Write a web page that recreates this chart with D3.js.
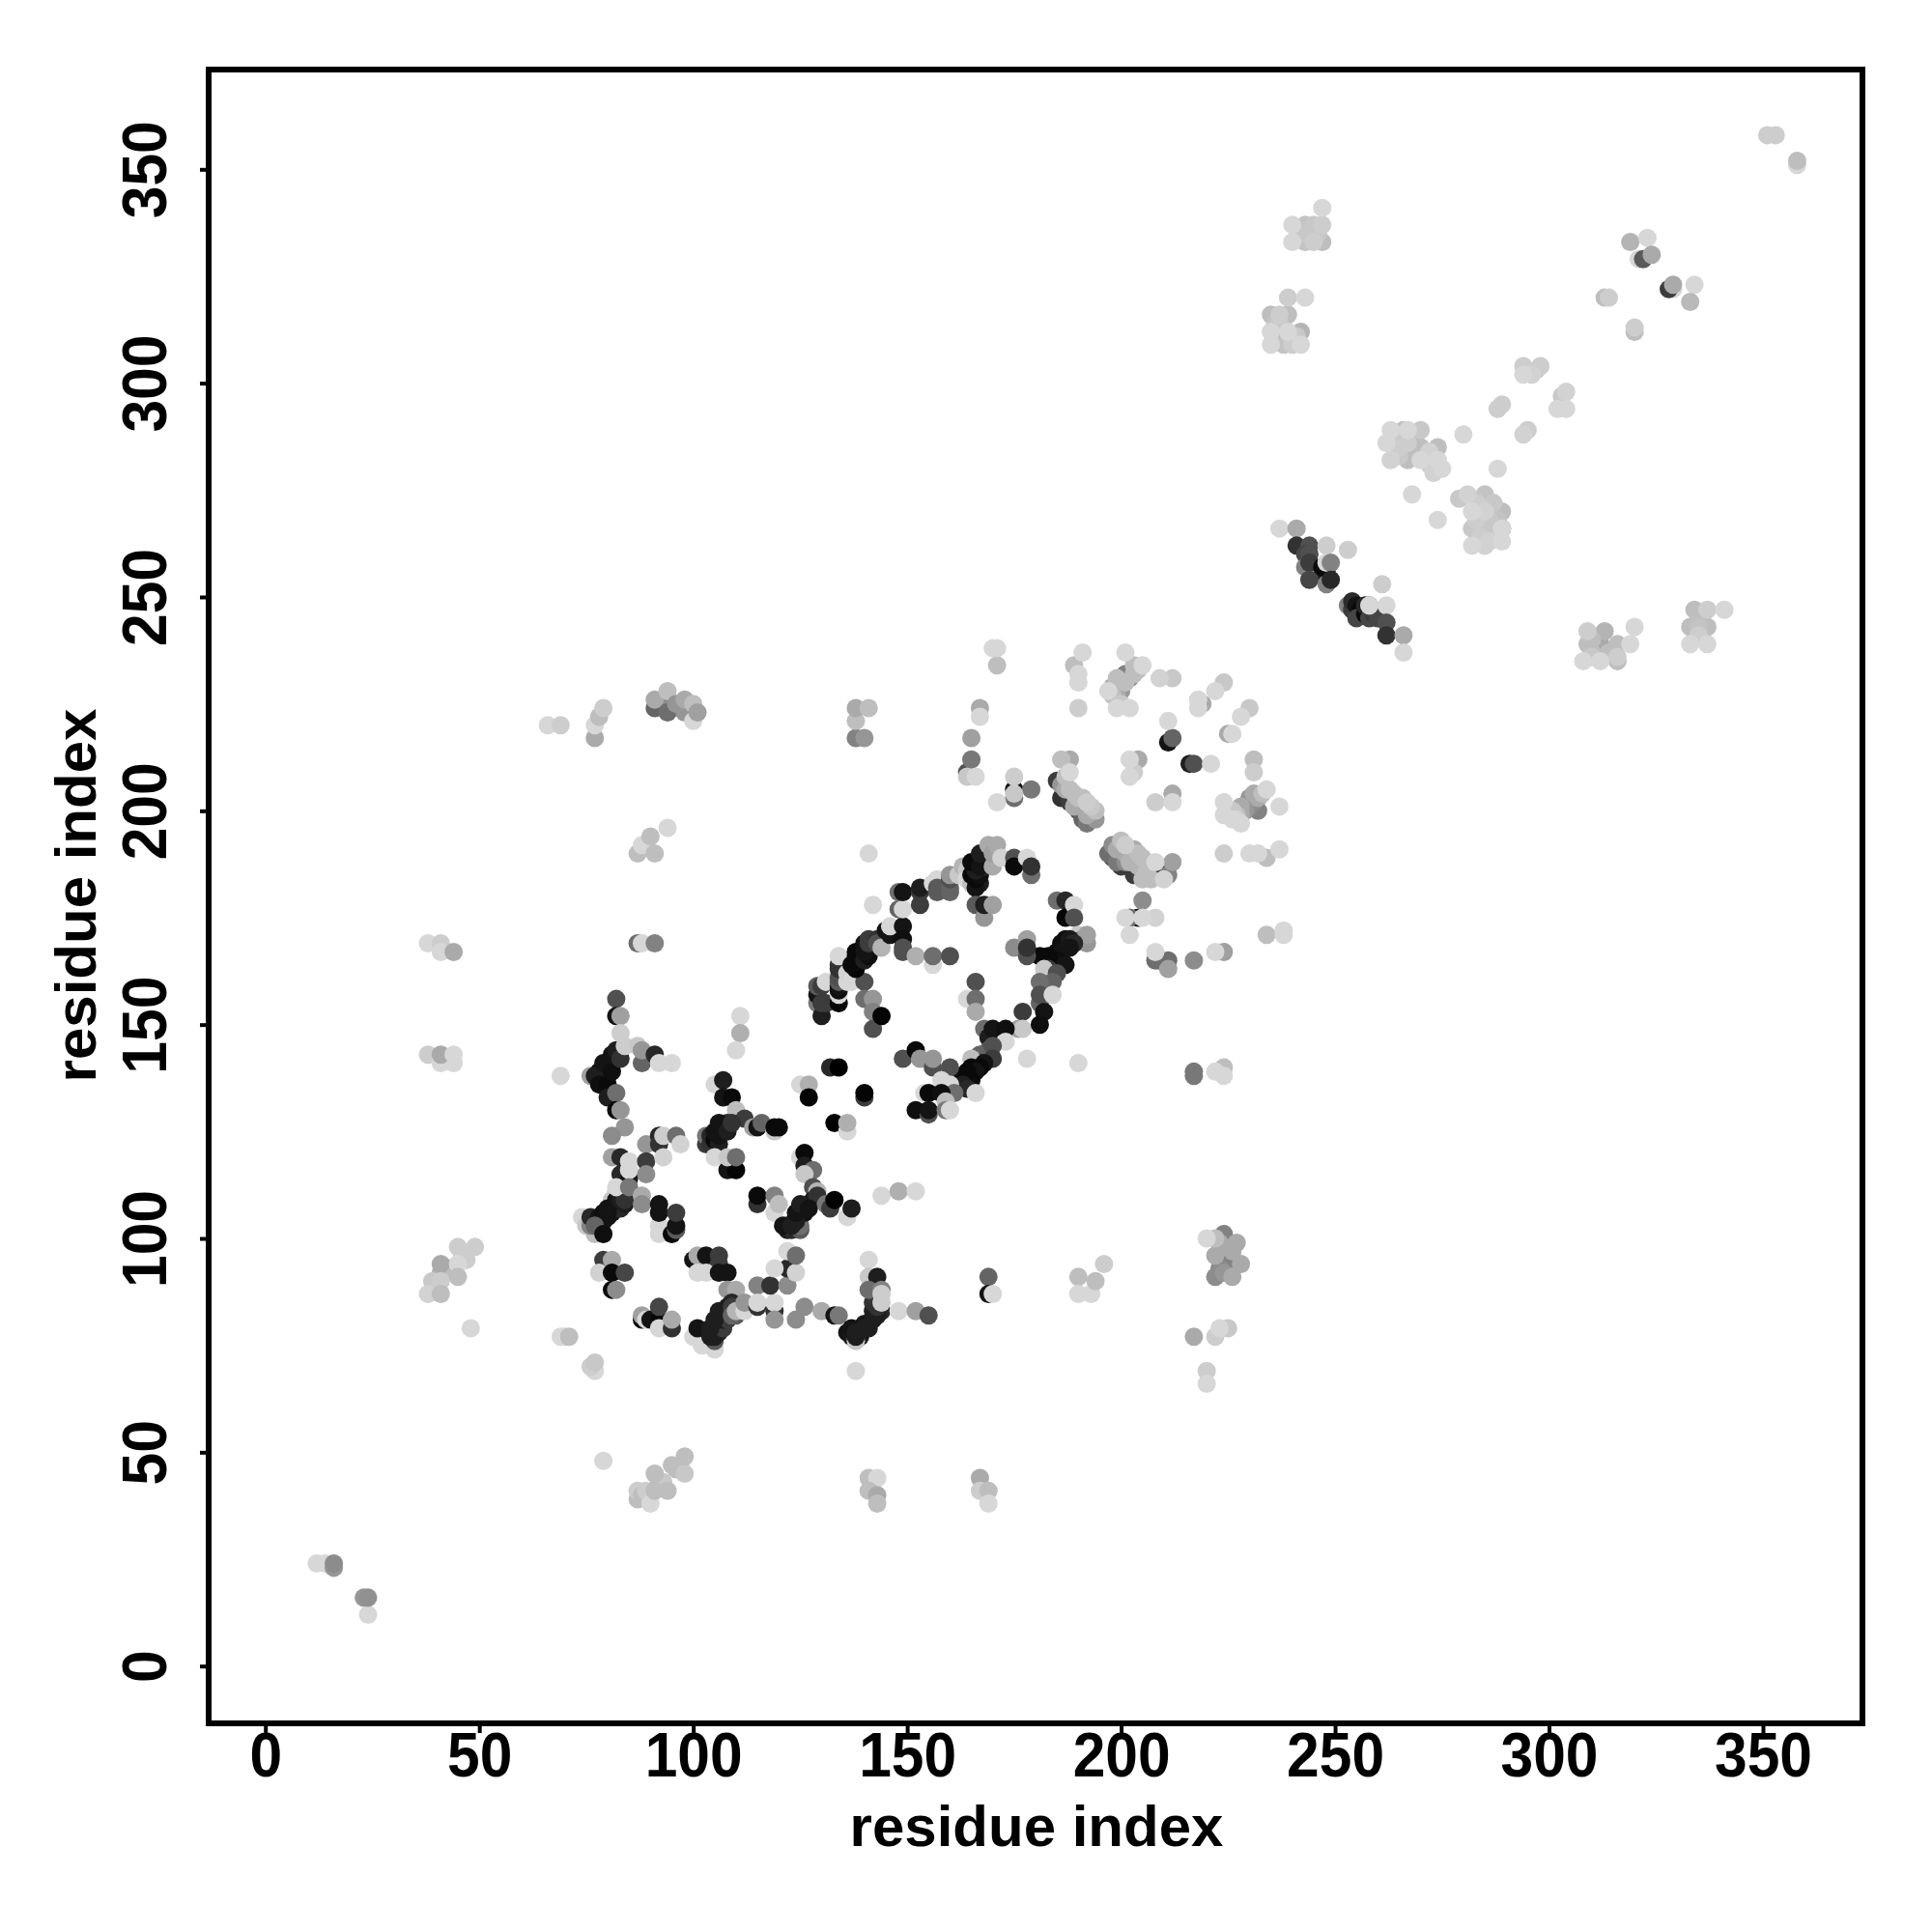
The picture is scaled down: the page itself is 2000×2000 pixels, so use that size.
<!DOCTYPE html>
<html><head><meta charset="utf-8">
<script src="https://cdn.jsdelivr.net/npm/d3@7/dist/d3.min.js"></script>
<style>html,body{margin:0;background:#fff}svg{display:block}</style></head>
<body><svg id="c" width="2000" height="2000"></svg>
<script>
const xTicks=[0,50,100,150,200,250,300,350], yTicks=[0,50,100,150,200,250,300,350];
const axisLabel="residue index";
// each point: [residue i, residue j, shade level 0 (dark) .. 255 (light)]
const farCorners=[[12,24,215],[14,24,215],[16,23,150],[16,24,140],[24,12,215],[23,16,150],[24,16,145],[351,358,205],[353,358,205],[358,351,215],[358,352,190]];
const leftColumn=[[38,169,215],[41,169,205],[41,167,215],[44,167,170],[38,143,205],[41,141,215],[44,141,215],[41,143,170],[44,143,215],
[40,89,200],[41,92,180],[43,93,170],[44,92,190],[46,96,205],[45,98,205],[49,98,205],[47,95,205],[41,94,170],[45,94,215],[39,90,200],[41,90,205],[45,91,190],[38,87,210],[41,87,190],[48,79,215],[79,48,215],
[87,39,190],[87,41,205],[88,40,190],[89,41,205],[92,43,190],[93,43,200],[96,46,190],[97,47,200],[90,38,215],[91,41,190],[94,41,190],[91,45,190],[95,47,190],[98,45,200],[98,49,190],
[167,44,170],[167,41,205],[169,41,190],[169,38,215],[141,44,190],[143,44,215],[141,41,190],[143,40,170],[143,38,190],
[66,220,215],[69,220,205],[77,217,170],[77,220,215],[78,222,190],[79,224,205],
[93,224,100],[95,224,90],[97,224,130],[92,225,140],[99,224,150],[91,224,100],[91,226,170],[94,223,110],[94,228,190],[96,225,150],[98,223,150],[98,226,170],[100,225,190],[100,221,215],[101,223,160],
[138,217,130],[140,217,150],[138,221,190],[138,224,170],[141,224,190],
[87,190,190],[88,192,215],[90,194,190],[91,190,190],[94,196,215],[87,169,110],[88,169,215],[91,169,130],
[169,91,100],[169,87,20],[170,87,215],[190,91,190],[190,87,215],[193,87,215],[194,90,190],[196,94,205]];
const clusterA=[[76,138,160],[78,137,10],[78,139,15],[79,138,15],[80,138,10],[80,140,10],[81,141,15],[82,142,20],[77,138,30],[78,136,15],[80,136,10],[79,141,20],[81,139,15],[81,143,20],[82,144,30],[83,142,50],[80,133,30],[82,134,110],[82,130,10],[83,130,150],[82,156,80],[82,152,20],[83,152,160],[83,148,205],[69,138,215],[84,145,205],[87,145,200],[88,141,100],[88,144,150],[91,143,40],[92,141,215],[95,141,215],[84,126,150],[81,124,140]];
const clusterB=[[81,119,160],[83,119,40],[83,115,40],[85,114,20],[85,118,215],[85,116,215],[89,122,150],[89,118,60],[89,115,140],[92,124,40],[92,122,50],[93,124,205],[93,119,210],[96,124,110],[97,122,210]];
const clusterC=[[74,105,215],[75,103,200],[77,101,190],[76,103,130],[77,104,60],[78,103,30],[79,104,30],[80,105,20],[81,106,20],[82,107,30],[83,107,40],[84,108,30],[76,105,40],[78,105,20],[79,106,15],[80,106,20],[77,103,100],[79,101,15],[81,109,200],[82,111,200],[80,107,20],[82,109,20],[83,109,30],[84,109,50],[82,112,215],[85,112,120],[88,110,170],[88,108,140],[92,103,215],[92,101,215],[92,108,20],[92,106,20],[95,101,10],[96,102,90],[96,103,20],[96,106,60]];
const clusterD=[[79,95,60],[81,95,170],[78,92,210],[81,92,10],[84,92,70],[81,88,10],[82,88,140],[88,81,10],[88,82,160],[89,81,215],[90,81,20],[92,81,10],[92,84,70],[92,79,215],[95,79,50],[95,81,170]];
const clusterE=[[100,77,215],[102,75,215],[101,79,20],[100,95,20],[101,96,170],[103,96,20],[106,96,60],[106,94,60],[101,92,215],[103,92,215],[106,92,20],[108,92,20],[108,88,150],[110,88,170],[105,74,215],[105,76,90],[105,77,30],[104,77,30],[104,78,30],[105,79,30],[106,78,30],[106,80,25],[107,79,60],[107,81,25],[108,81,60],[108,83,30],[109,85,40],[104,79,30],[105,81,30],[106,83,30],[108,84,30],[109,84,60],[110,82,90],[109,82,100],[110,83,180],[112,83,215],[112,85,150],[115,89,130],[115,84,50],[115,85,215],[119,83,50],[119,85,215],[119,81,150],[118,89,50],[122,89,140],[122,93,40],[119,93,215],[122,97,215],[124,92,210],[124,96,110],[124,81,140],[126,84,140]];
const clusterF=[[130,83,170],[133,82,20],[134,82,120],[136,78,20],[137,77,25],[139,77,25],[139,79,20],[140,80,25],[141,80,20],[141,79,30],[142,83,30],[144,83,40],[142,85,50],[143,86,60],[137,79,20],[138,76,200],[138,77,30],[138,78,30],[140,79,30],[142,81,30],[143,82,30],[143,84,50],[141,95,215],[141,91,200],[143,91,30],[141,88,110],[144,88,130],[144,87,205],[144,85,205],[148,83,215],[152,83,160],[155,82,80],[70,77,205],[69,77,215],[71,77,190],[77,69,215],[76,70,205],[77,71,200],[138,69,215]];
const clusterG=[[105,136,215],[107,137,30],[107,133,20],[109,133,10],[110,130,190],[112,128,60],[103,122,60],[103,124,120],[104,122,50],[104,124,40],[105,123,10],[106,122,30],[106,124,20],[107,126,20],[108,127,40],[105,125,20],[106,127,20],[108,125,30],[109,127,50],[114,126,160],[115,126,20],[116,127,100],[119,125,200],[119,126,10],[120,126,10],[105,119,215],[108,116,20],[110,116,5],[108,119,200],[110,119,110],
[111,152,215],[111,148,175],[110,144,215],[125,136,215],[127,136,175],[127,133,5],[132,140,40],[134,140,0],[140,133,60],[140,134,5],[133,127,0],[136,125,215],[136,127,175]];
const clusterH=[[125,119,215],[126,120,10],[126,117,30],[128,116,110],[126,115,200],[128,112,80],[129,111,180],[115,108,50],[115,110,10],[119,110,130],[119,106,215],[120,108,190],[122,102,30],[123,102,40],[125,102,90],[122,103,60],[121,103,20],[125,103,110],[123,103,30],[124,105,20],[126,106,20],[125,107,20],[127,108,20],[128,109,30],[129,110,50],[124,104,30],[124,106,20],[125,108,30],[127,107,20],[131,108,120],[132,107,60],[133,109,0],[136,105,215],[137,107,30],[144,110,215],[148,111,175],[152,111,215]];
const ringTop=[[141,190,215],[142,178,215],[129,155,120],[129,157,20],[129,159,90],[130,152,30],[130,155,60],[131,155,60],[130,159,60],[131,160,215],[134,155,5],[134,157,215],[134,158,15],[134,159,20],[134,160,90],[134,161,80],[134,163,50],[134,164,50],[134,166,215],[136,160,215],[136,162,210],[137,160,215],[140,160,80],[140,156,110],[142,156,150],[142,153,130],[142,149,80],[144,152,5],
[138,163,5],[137,164,10],[138,165,10],[138,166,10],[138,167,10],[140,165,30],[141,166,15],[140,167,20],[140,169,20],[141,169,60],[141,170,60],[143,170,50],[143,169,80],[144,168,180],[145,172,20],[146,171,20],[146,173,215],[149,173,20],[149,170,15],[149,167,80],[149,168,80],[152,166,175],[156,164,215],[156,166,110],[160,166,80],
[148,177,100],[149,177,215],[148,181,110],[149,181,20],[153,178,60],[153,181,60],[153,182,30],[156,183,215],[157,184,215],[157,181,90],[157,182,90],[160,181,100],[160,182,100],[160,184,80],[160,185,150],[162,185,200],[163,187,180],[164,186,200],[164,184,215],[165,183,190],[167,183,30],[166,182,20],[165,185,10],[166,184,10],[167,185,15],[168,187,40],[168,189,30],[166,188,20],[166,186,30],[165,188,10],[167,187,20],[167,190,30],[170,187,170],[169,192,170],[170,190,160],[171,192,170],[172,189,210],[175,189,80],[175,187,10],[178,189,215],[179,185,110],[179,187,50],
[166,178,90],[168,175,150],[168,178,30],[170,178,160]];
const ringRight=[[185,179,110],[187,179,40],[187,175,5],[189,178,215],[189,175,80],[190,171,200],[191,170,140],[192,169,150],[192,171,160],[183,165,200],[184,163,170],[186,165,30],[185,167,10],[186,169,15],[187,170,15],[188,170,25],[189,169,40],[188,168,20],[186,167,20],[185,165,15],[183,166,10],[181,166,10],[187,164,20],[175,168,140],[178,170,160],[178,166,80],[178,168,50],
[183,163,60],[182,160,200],[183,159,120],[182,158,120],[182,163,200],[181,155,100],[185,162,80],[184,160,100],[181,160,110],[181,157,80],[184,157,215],[177,153,60],[182,153,20],[176,149,160],[177,149,200],[181,150,15],
[168,149,110],[169,147,30],[170,149,20],[173,149,15],[173,146,215],[169,144,90],[168,143,80],[167,143,100],[170,145,80],[170,142,60],[167,141,60],[165,142,190],[168,141,20],[167,140,10],[165,140,10],[166,139,20],[164,139,10],[163,138,10],[162,137,10],[165,137,10],[163,136,30],[164,135,40],[166,134,215],
[166,160,80],[164,156,215],[166,156,110],[166,153,170],
[149,142,80],[152,144,10],[153,142,150],[156,140,80],[156,142,150],[160,140,80],[158,137,215],[160,136,215],[161,134,110],[154,134,215],[155,134,10],[158,134,15],[159,132,190],[152,130,15],[155,129,80],[155,130,20],[159,130,120],[160,130,215],[178,142,215],[190,141,215]];
const middle=[[170,238,215],[171,238,215],[171,234,190],[167,222,215],[167,224,170],[165,217,160],[165,212,120],[164,209,80],[164,208,200],[166,208,215],[171,202,215],[175,208,205],[175,205,20],[175,203,110],[175,204,200],[179,205,120],
[189,234,190],[191,237,215],[190,232,215],[190,230,215],[190,224,205],[201,237,215],[197,228,215],[198,229,170],[200,230,140],[201,232,130],[201,230,190],[203,234,190],[205,234,215],[199,224,215],[202,224,215],[209,231,210],[212,231,200],[199,227,170],[200,228,150],[202,231,140],[199,231,190],[198,227,190],[200,225,200],[203,232,190],[204,233,190],
[218,224,215],[218,226,215],[219,225,170],[222,228,215],[224,230,200],[228,222,215],[230,224,200],[225,218,170],[226,218,215],[212,217,100],[211,216,20],[211,221,215],[216,211,30],[217,211,80],[221,211,215],[231,209,205],[231,212,190],
[202,208,215],[203,209,205],[202,212,215],[204,212,170],[208,202,205],[212,202,215],[212,204,170],
[186,212,190],[188,212,170],[188,209,215],[186,207,30],[185,207,60],[188,205,190],[186,203,50],[188,202,60],[190,203,190],[192,202,205],[190,200,80],[192,197,120],[194,200,190],[191,198,100],[194,198,150],[187,208,190],[187,205,170],[189,204,190],[189,201,170],[191,203,190],[193,201,200],[192,199,170],[186,206,150],
[224,199,215],[224,202,215],[226,198,215],[228,197,215],[228,201,170],[230,203,150],[232,200,130],[231,204,170],[234,205,215],[237,201,215],[227,199,190],[228,199,170],[229,200,150],[230,201,140],[231,202,140],[232,203,170],[226,200,200],[227,198,210],[233,204,190],[224,190,205],[230,190,215],[232,190,215],[234,189,190],[237,191,215],
[200,193,190],[198,192,140],[197,190,110],[201,192,205],[198,189,90],[200,187,60],[202,187,60],[203,191,170],[202,189,100],[205,189,190],[203,185,60],[205,184,190],[207,184,190],[207,187,20],[208,188,215],[212,188,160],[210,185,60],[211,185,130],[210,184,210],[199,191,170],[201,190,170],[202,188,180],[204,190,190],[204,187,180],[206,186,190],[199,188,120],[201,188,140],
[205,179,140],[204,175,20],[202,175,110],[201,175,215],[205,175,215],[208,175,210],[202,171,215],[208,165,110],[208,167,215],[209,165,80],[211,163,160],[211,165,110],[217,165,140],[222,167,215],[224,167,160],[234,171,190],[238,171,215],[238,172,215],
[217,138,120],[217,139,120],[222,139,215],[224,138,215],[224,140,190],
[220,100,215],[222,100,190],[224,101,130],[224,98,150],[227,99,170],[222,96,170],[225,96,120],[228,94,170],[223,93,140],[222,91,140],[226,91,170],[223,99,170],[225,99,130],[226,97,170],[224,95,130],[224,92,150],[225,93,130],
[217,77,170],[222,77,205],[223,79,215],[225,79,200],[220,69,205],[220,66,215]];
const upperLeft=[[247,341,215],[240,337,215],[243,337,195],[245,337,200],[247,337,205],[240,333,215],[243,333,195],[245,333,205],[247,333,190],[244,335,195],[246,335,200],[242,335,200],[239,320,205],[243,320,215],[235,316,190],[237,316,205],[239,316,190],[235,312,215],[237,312,180],[239,312,215],[242,312,180],[235,309,215],[238,309,195],[240,309,205],[242,309,215],[237,314,200],[240,310,205],[238,313,170],[241,311,200],[236,314,195]];
const upperMid=[[294,304,205],[294,302,215],[296,302,210],[297,303,200],[298,304,205],[288,294,205],[289,295,205],[303,297,200],[304,298,210],[302,294,215],[304,294,215],[294,288,210],[295,289,205],[280,288,215],[288,280,215],
[262,286,215],[263,289,215],[263,286,200],[263,282,210],[266,289,190],[267,289,215],[270,289,200],[267,286,205],[267,282,190],[270,285,190],[270,282,215],[273,279,210],[274,285,190],[275,280,215],[274,282,215],[268,274,215],[274,268,215],[265,287,200],[265,285,205],[265,283,200],[268,288,190],[268,284,190],[272,284,210],[272,281,205],[273,280,210],
[279,273,200],[281,274,210],[285,274,195],[282,270,215],[285,270,210],[289,270,190],[282,266,200],[285,266,200],[289,266,120],[289,266,215],[285,262,210],[282,262,215],[285,262,190],[289,263,215],[284,271,205],[286,268,200],[283,268,205],[287,264,200],[284,264,205],[288,268,195],[287,272,200],[283,272,205],[286,263,210]];
const upperRight=[[319,333,180],[323,334,215],[321,329,215],[322,329,90],[324,330,170],[329,322,215],[328,322,60],[329,323,170],[334,323,215],[333,319,185],[313,320,190],[314,320,205],[320,312,190],[320,313,205]];
const strand=[[237,266,215],[241,266,170],[241,262,50],[244,262,80],[243,260,70],[244,260,80],[248,262,205],[253,261,205],[243,257,130],[244,258,60],[247,255,30],[248,256,30],[247,257,10],[248,258,215],[249,258,130],[244,254,70],[248,253,130],[249,254,40],[261,253,205],[253,248,130],[254,247,60],[254,249,45],[255,248,20],[256,247,10],[255,245,70],[257,246,10],[257,248,40],[258,245,70],[259,246,60],[260,245,70],[258,248,120],[258,248,215],[262,248,215],[262,244,80],[262,241,50],[266,241,170],[266,237,215]];
const lowerRight=[[320,243,215],[309,242,205],[313,242,180],[309,239,190],[312,237,170],[316,239,190],[319,239,215],[308,235,215],[312,235,215],[316,236,205],[316,235,190],[310,240,190],[310,237,190],[312,239,170],[310,236,200],[314,237,190],[334,247,190],[337,247,205],[341,247,215],[333,243,190],[337,243,190],[333,239,215],[337,239,215],[335,245,190],[335,243,195],[335,241,205],[336,246,190]];

const byShade=(a,b)=>d3.ascending(a[2],b[2]);
const pale=[].concat(middle,upperLeft,upperMid,lowerRight).sort(byShade);
const points=[].concat(farCorners,leftColumn,clusterA,clusterB,clusterC,clusterD,clusterE,clusterF,clusterG,clusterH,ringTop,ringRight,pale,upperRight,strand);

const L=216,R=1928,T=72,B=1784;
const x=d3.scaleLinear().domain([0,350]).range([274.7,1825]);
const y=d3.scaleLinear().domain([0,350]).range([1724.7,175.3]);
const shade=d3.scaleLinear().domain([0,255]).range(["#000","#fff"]);
const svg=d3.select("#c");
const font='"Liberation Sans",Arial,sans-serif';

svg.append("g").selectAll("circle").data(points).join("circle")
  .attr("cx",d=>x(d[0])).attr("cy",d=>y(d[1])).attr("r",9.5).attr("fill",d=>shade(d[2]));

svg.append("rect").attr("x",L).attr("y",T).attr("width",R-L).attr("height",B-T)
  .attr("fill","none").attr("stroke","#000").attr("stroke-width",6);

const ax=svg.append("g").attr("transform",`translate(0,${B})`).call(d3.axisBottom(x).tickValues(xTicks).tickSize(10).tickPadding(0));
const ay=svg.append("g").attr("transform",`translate(${L},0)`).call(d3.axisLeft(y).tickValues(yTicks).tickSize(9).tickPadding(0));
[ax,ay].forEach(g=>{g.select(".domain").remove();g.selectAll("line").attr("stroke","#000").attr("stroke-width",4);
  g.selectAll("text").attr("fill","#000").style("font-family",font).style("font-weight","bold").style("font-size","60.5px");});
ax.selectAll("text").attr("y",0).attr("dy",0).attr("transform","translate(0,55) scale(1,1.07)");
ay.selectAll("text").attr("x",0).attr("y",0).attr("dy",0).attr("text-anchor","middle")
  .attr("transform","translate(-44.5,0) rotate(-90) scale(1,1.07)");

svg.append("text").attr("x",1073).attr("y",1911).attr("text-anchor","middle")
  .style("font-family",font).style("font-weight","bold").style("font-size","60px").text(axisLabel);
svg.append("text").attr("transform","translate(99,927) rotate(-90)").attr("text-anchor","middle")
  .style("font-family",font).style("font-weight","bold").style("font-size","60px").text(axisLabel);
</script></body></html>
